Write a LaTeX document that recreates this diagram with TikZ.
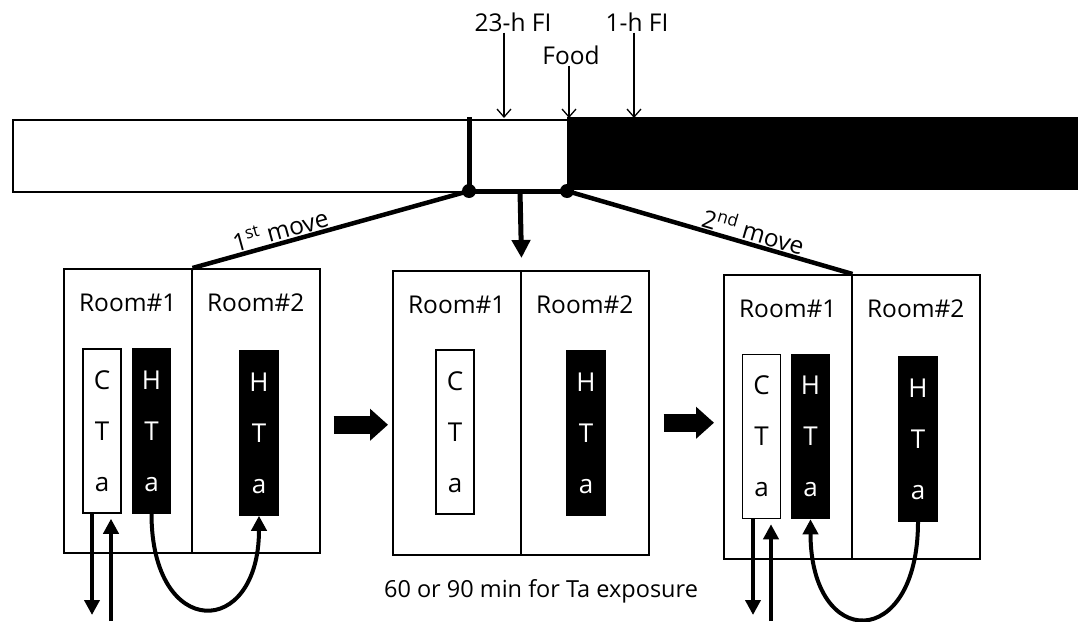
\documentclass[tikz,border=0pt]{standalone}
\usepackage{fontspec}
\setmainfont{Open Sans}
\usepackage{tikz}
\usetikzlibrary{arrows.meta,positioning}
\tikzstyle{lbl}=[font=\fontsize{24.5}{27}\selectfont,inner sep=1pt]
\tikzstyle{room}=[rectangle,draw,line width=1.5pt,inner sep=0pt,anchor=north west,
                  minimum width=128pt,minimum height=284pt]
\tikzstyle{ctank}=[rectangle,draw,line width=1.5pt,fill=white,inner sep=0pt,
                  minimum width=38pt,minimum height=164pt,align=center,
                  font=\fontsize{26}{51}\selectfont]
\tikzstyle{htank}=[ctank,fill=black,text=white]
\tikzstyle{tick}=[-{Straight Barb[length=8pt,width=14pt]},line width=1.3pt]
\tikzstyle{arrow}=[-{Triangle[length=15pt,width=15pt]},line width=4pt]
\tikzstyle{bigarrow}=[-{Triangle[length=18pt,width=31pt]},line width=18pt]
\tikzstyle{move}=[line width=4.5pt]

\begin{document}
\begin{tikzpicture}[x=1pt,y=-1pt]
      \useasboundingbox[fill=white] (0,0) rectangle (1078,621);
      % light / dark bar
      \node[rectangle,draw,line width=2pt,anchor=north west,minimum width=555pt,minimum height=72pt] (lt) at (12,119) {};
      \node[rectangle,fill=black,anchor=north west,minimum width=511pt,minimum height=73pt,inner sep=0pt] (dk) at (567,117) {};

      \node[lbl] (l23) at (513,22) {23-h FI};
      \node[lbl] (lfd) at (571,55) {Food};
      \node[lbl] (l1) at (637,22) {1-h FI};
      \coordinate (t23) at (504,118);
      \coordinate (tfd) at (569,118);
      \coordinate (t1) at (634,118);
      \draw[tick] (l23.south -| t23) -- (t23);
      \draw[tick] (lfd.south -| tfd) -- (tfd);
      \draw[tick] (l1.south -| t1) -- (t1);

      % junction
      \coordinate (jt) at (469,117);
      \coordinate (j1) at (469,191);
      \coordinate (j2) at (567,191);
      \coordinate (jm) at (520,191);
      \draw[line width=5pt] (jt) -- (j1) -- (j2);
      \fill (j1) circle[radius=7pt];
      \fill (j2) circle[radius=7pt];

      % rooms
      \node[room] (r11) at (63,268) {};
      \node[room] (r12) at (191,268) {};
      \node[room] (r21) at (392,270) {};
      \node[room] (r22) at (520,270) {};
      \node[room] (r31) at (723,274) {};
      \node[room] (r32) at (851,274) {};
      \foreach \r/\t in {r11/1,r12/2,r21/1,r22/2,r31/1,r32/2}
        \node[lbl] (n\r) at ([yshift=-35pt]\r.north) {Room\#\t};

      % tanks
      \node[ctank] (c11) at (102,431) {C\\T\\a};
      \node[htank] (h11) at (151.5,431) {H\\T\\a};
      \node[htank] (h12) at (259,433) {H\\T\\a};
      \node[ctank] (c21) at (455,432) {C\\T\\a};
      \node[htank] (h22) at (586,433) {H\\T\\a};
      \node[ctank] (c31) at (761.5,436.5) {C\\T\\a};
      \node[htank] (h31) at (810.5,436.5) {H\\T\\a};
      \node[htank] (h32) at (918,439) {H\\T\\a};

      \node[lbl,font=\fontsize{23.5}{26}\selectfont] (note) at (541,591) {60 or 90 min for Ta exposure};

      % moves
      \draw[move] (j1) -- node[lbl,sloped,above,pos=0.67] {1\textsuperscript{st} move} (r11.north east);
      \draw[move] (j2) -- node[lbl,sloped,above,pos=0.64] {2\textsuperscript{nd} move} (r31.north east);
      \draw[-{Triangle[length=18pt,width=18pt]},line width=5pt] (jm) -- ([yshift=12pt]r21.north east);
      \draw[bigarrow] ([shift={(13,14)}]r12.east) -- ([shift={(-4,14)}]r12.east -| r21.west);
      \draw[bigarrow] ([shift={(14,10)}]r22.east) -- ([shift={(-9,10)}]r22.east -| r31.west);

      % transfers
      \coordinate (o1) at (92,615);
      \coordinate (i1) at (111,621);
      \coordinate (o3) at (753,615);
      \coordinate (i3) at (771,621);
      \draw[arrow] ([xshift=-10pt]c11.south) -- (o1);
      \draw[arrow] (i1) -- ([shift={(9,5)}]c11.south);
      \draw[arrow] ([xshift=-8.5pt]c31.south) -- (o3);
      \draw[arrow] (i3) -- ([shift={(9.5,5)}]c31.south);
      \draw[arrow] (h11.south) .. controls +(0,127) and +(0,124) .. (h12.south);
      \draw[arrow] (h32.south) .. controls +(0,130) and +(0,132) .. (h31.south);
    \end{tikzpicture}
\end{document}
